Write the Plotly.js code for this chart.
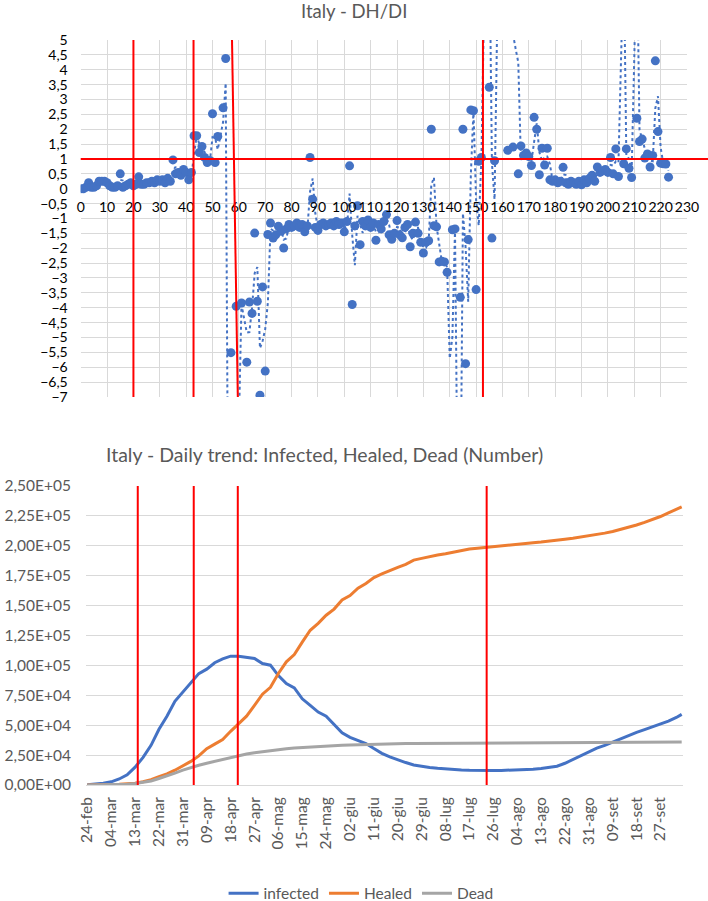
<!DOCTYPE html>
<html>
<head>
<meta charset="utf-8">
<script src="https://cdn.plot.ly/plotly-3.0.1.min.js"></script>
<style>html,body{margin:0;padding:0;background:#fff;}#chart{width:708px;height:901px;}</style>
</head>
<body>
<div id="chart"></div>
<script>
// ---------- Top chart: Italy - DH/DI (day index -> ratio; null = no point) ----------
var dhdi = [
  0, 0, 0.05, 0.2, 0.05, 0.05, 0.1, 0.25, 0.25, 0.25,
  0.2, 0.1, 0.05, 0.05, 0.1, 0.5, 0.05, 0.1, 0.15, 0.2,
  0.1, 0.15, 0.4, 0.15, 0.15, 0.2, 0.2, 0.25, 0.2, 0.3,
  0.25, 0.3, 0.2, 0.35, 0.25, 0.97, 0.5, 0.55, 0.45, 0.65,
  0.55, 0.3, 0.55, 1.78, 1.78, 1.22, 1.42, 1.05, 0.88, 0.95,
  2.52, 0.88, 1.76, null, 2.72, 4.38, -30, -5.51, -20, -3.95,
  null, -3.84, null, -5.83, -3.81, -4.19, -1.49, -3.78, -6.94, -3.3,
  -6.13, -1.54, -1.15, -1.66, -1.55, -1.26, -1.43, -1.99, -1.35, -1.2,
  -1.3, -1.25, -1.15, -1.3, -1.2, -1.45, -1.25, 1.05, -0.35, -1.3,
  -1.4, -1.2, -1.15, -1.25, -1.2, -1.15, -1.25, -1.1, -1.2, -1.15,
  -1.45, -1.1, 0.77, -3.89, -1.25, -0.57, -1.88, -1.1, -1.25, -1.05,
  -1.3, -1.15, -1.73, -1.2, -1.35, -1.1, -0.87, -1.55, -1.7, -1.5,
  -1.07, -1.55, -1.65, -1.3, -1.2, -1.95, -1.5, -1.12, -1.5, -1.8,
  -2.16, -1.8, -1.75, 2.0, -1.24, -1.28, -2.46, -2.44, -2.46, -2.81,
  -8.6, -1.38, -1.35, -20, -3.65, 2.0, -5.88, -1.71, 2.65, 2.62,
  -3.39, 0.92, 1.05, 8, 14, 3.41, -1.66, 0.94, 14, 20,
  15, 10, 1.29, 9, 1.4, 8, 0.5, 1.44, 1.12, 1.2,
  1.08, 0.78, 2.4, 2.0, 0.47, 1.36, 0.8, 1.36, 0.3, 0.25,
  0.3, 0.2, 0.25, 0.72, 0.2, 0.15, 0.25, 0.2, 0.15, 0.25,
  0.13, 0.3, 0.2, 0.35, 0.45, 0.25, 0.73, 0.55, 0.6, 0.65,
  0.55, 1.05, 0.5, 1.34, 0.41, 15, 0.84, 1.34, 0.69, 0.38,
  14, 2.37, 1.59, 1.67, 1.03, 1.17, 0.73, 1.12, 4.3, 1.92,
  0.86, 0.84, 0.83, 0.39
];
var topTickEven = [0, 20, 40, 60, 80, 100, 120, 140, 160, 180, 200, 220];
var topTickOdd = [10, 30, 50, 70, 90, 110, 130, 150, 170, 190, 210, 230];
var topRedX0 = [20, 42.8, 57.4, 152.6];
var topRedX1 = [20, 42.8, 59.6, 152.6];
var topRedY = 1;

// ---------- Bottom chart: daily trend ----------
var days = [0,3,6,9,12,15,18,21,24,27,30,33,36,39,42,45,48,51,54,57,60,63,66,69,72,75,78,81,84,87,
  90,93,96,99,102,105,108,111,114,117,120,123,126,129,132,135,138,141,144,147,150,153,156,159,162,165,168,171,174,177,
  180,183,186,189,192,195,198,201,204,207,210,213,216,219,222,224];
var infected = [221,588,1577,2706,5061,8514,14955,23073,33190,46638,
  57521,70065,77635,85388,93187,96877,102253,105418,107771,107709,
  106527,105813,101551,100179,91528,84842,81266,72070,66553,60960,
  57500,50966,43691,39893,36976,34730,30500,26500,23500,21000,
  18800,16800,15600,14700,14000,13400,13000,12600,12300,12100,
  12100,12200,12200,12300,12400,12700,13200,13800,14500,15700,
  18200,21500,24800,28000,30800,33200,36000,38800,41500,44000,
  46300,48700,51000,53500,56500,59100];
var healed = [1,46,83,276,589,1004,1439,2749,4440,7024,
  9362,12384,15729,19758,24392,30455,34211,38092,44927,51600,
  57576,66624,75945,81654,93245,103031,109039,119500,129401,135200,
  141981,147101,154700,158355,164500,168500,173500,176500,179500,182000,
  184500,188000,189500,191000,192300,193300,194800,196300,197300,198000,
  198700,199500,200400,201000,201600,202200,202600,203200,203800,204600,
  205500,206300,207300,208300,209300,210600,212000,213600,215400,217400,
  219600,222000,224500,227500,230500,232500];
var dead = [7,17,34,107,233,631,1266,2158,3405,5476,
  7503,10023,12428,14681,16523,18279,19899,21645,23227,24648,
  25969,26977,27967,28884,29684,30395,30911,31368,32007,32486,
  32785,33072,33340,33530,33774,33964,34167,34345,34448,34561,
  34657,34716,34744,34818,34861,34899,34945,34984,35028,35058,
  35092,35112,35129,35146,35171,35190,35209,35234,35400,35418,
  35445,35463,35472,35483,35518,35541,35587,35610,35658,35707,
  35758,35818,35875,35918,35968,36002];
var dateTickVals = [0,9,18,27,36,45,54,63,72,81,90,99,108,117,126,135,144,153,162,171,180,189,198,207,216];
var dateTickText = ['24-feb','04-mar','13-mar','22-mar','31-mar','09-apr','18-apr','27-apr','06-mag','15-mag',
  '24-mag','02-giu','11-giu','20-giu','29-giu','08-lug','17-lug','26-lug','04-ago','13-ago',
  '22-ago','31-ago','09-set','18-set','27-set'];
var yTickVals = [0,25000,50000,75000,100000,125000,150000,175000,200000,225000,250000];
var yTickText = ['0,00E+00','2,50E+04','5,00E+04','7,50E+04','1,00E+05','1,25E+05','1,50E+05','1,75E+05','2,00E+05','2,25E+05','2,50E+05'];
var bottomRedDays = [19, 40.1, 56.7, 150.5];

// ---------- build ----------
var BLUE = '#4472C4', ORANGE = '#ED7D31', GREY = '#A5A5A5', RED = '#FF0000';
var FONT = 'Lato, "Liberation Sans", sans-serif';

var px = [], py = [];
dhdi.forEach(function (v, i) { if (v !== null) { px.push(i); py.push(v); } });
// 2-period moving average trendline
var tx = [], ty = [];
for (var k = 1; k < px.length; k++) { tx.push(px[k]); ty.push((py[k] + py[k - 1]) / 2); }

var topXRange = [0, 230];
var topXDomain = [0.114, 0.9703];
var topYRange = [-7, 5];
var topYDomain = [0.5594, 0.9556];
var xAxisPos = topYDomain[0] + (0 - topYRange[0]) / (topYRange[1] - topYRange[0]) * (topYDomain[1] - topYDomain[0]);

var traces = [
  {x: tx, y: ty, xaxis: 'x', yaxis: 'y', mode: 'lines', showlegend: false, hoverinfo: 'skip',
   line: {color: BLUE, width: 2, dash: 'dot'}},
  {x: px, y: py, xaxis: 'x', yaxis: 'y', mode: 'markers', showlegend: false,
   marker: {color: BLUE, size: 9}},
  // empty carriers so the two label axes of the top chart are drawn
  {x: [], y: [], xaxis: 'x3', yaxis: 'y', mode: 'markers', showlegend: false},
  {x: [], y: [], xaxis: 'x4', yaxis: 'y', mode: 'markers', showlegend: false},
  {x: days, y: infected, xaxis: 'x2', yaxis: 'y2', mode: 'lines', name: 'infected',
   line: {color: BLUE, width: 3}},
  {x: days, y: healed, xaxis: 'x2', yaxis: 'y2', mode: 'lines', name: 'Healed',
   line: {color: ORANGE, width: 3}},
  {x: days, y: dead, xaxis: 'x2', yaxis: 'y2', mode: 'lines', name: 'Dead',
   line: {color: GREY, width: 3}}
];

var shapes = [];
for (var i = 0; i < topRedX0.length; i++) {
  shapes.push({type: 'line', xref: 'x', yref: 'y', x0: topRedX0[i], x1: topRedX1[i], y0: topYRange[1], y1: topYRange[0],
    line: {color: RED, width: 2}});
}
shapes.push({type: 'line', xref: 'paper', yref: 'y', x0: topXDomain[0], x1: 1, y0: topRedY, y1: topRedY,
  line: {color: RED, width: 2}});
bottomRedDays.forEach(function (d) {
  shapes.push({type: 'line', xref: 'x2', yref: 'y2', x0: d, x1: d, y0: 0, y1: 250000,
    line: {color: RED, width: 2}});
});

function labelAxis(vals) {
  return {domain: topXDomain, range: topXRange, overlaying: 'x', anchor: 'free', position: xAxisPos,
    tickmode: 'array', tickvals: vals, showgrid: false, zeroline: false, showline: false, ticks: '',
    tickangle: 0, tickfont: {size: 14, color: '#000'}, ticklabelstandoff: 8};
}

var layout = {
  width: 708, height: 901,
  margin: {l: 0, r: 0, t: 0, b: 0, autoexpand: false},
  paper_bgcolor: '#fff', plot_bgcolor: '#fff',
  separators: ', ',
  font: {family: FONT, size: 14, color: '#000'},
  showlegend: true,
  legend: {orientation: 'h', x: 0.51, xanchor: 'center', y: 0.008, yanchor: 'middle',
    font: {size: 15.5, color: '#595959'}, itemwidth: 30},
  xaxis: {domain: topXDomain, range: topXRange, tick0: 0, dtick: 10, anchor: 'free', position: xAxisPos,
    showgrid: true, gridcolor: '#D9D9D9', gridwidth: 1, zeroline: false, showline: false, ticks: '',
    showticklabels: false},
  xaxis3: labelAxis(topTickEven),
  xaxis4: labelAxis(topTickOdd),
  yaxis: {domain: topYDomain, range: topYRange, tick0: 0, dtick: 0.5, anchor: 'x',
    showgrid: true, gridcolor: '#D9D9D9', gridwidth: 1, zeroline: false, showline: false, ticks: '',
    tickfont: {size: 14, color: '#000'}, ticklabelstandoff: 12},
  xaxis2: {domain: [0.1215, 0.9647], range: [-0.5, 224.5], anchor: 'y2',
    tickmode: 'array', tickvals: dateTickVals, ticktext: dateTickText, tickangle: -90,
    showgrid: false, zeroline: false, showline: false, ticks: '',
    tickfont: {size: 15.5, color: '#595959'}, ticklabelstandoff: 8},
  yaxis2: {domain: [0.1287, 0.4606], range: [0, 250000], anchor: 'x2',
    tickmode: 'array', tickvals: yTickVals, ticktext: yTickText,
    showgrid: true, gridcolor: '#D9D9D9', gridwidth: 1, zeroline: true, zerolinecolor: '#D9D9D9', zerolinewidth: 1,
    showline: false, ticks: '', tickfont: {size: 15.5, color: '#595959'}, ticklabelstandoff: 14},
  shapes: shapes,
  annotations: [
    {text: 'Italy - DH/DI', xref: 'paper', yref: 'paper', x: 0.5, y: 1 - 11 / 901, xanchor: 'center', yanchor: 'middle',
     showarrow: false, font: {size: 18.5, color: '#595959', family: FONT}},
    {text: 'Italy - Daily trend: Infected, Healed, Dead (Number)', xref: 'paper', yref: 'paper',
     x: 324.5 / 708, y: 1 - 455 / 901, xanchor: 'center', yanchor: 'middle',
     showarrow: false, font: {size: 19.5, color: '#595959', family: FONT}}
  ]
};

Plotly.newPlot('chart', traces, layout, {staticPlot: true, displayModeBar: false});
</script>
</body>
</html>
